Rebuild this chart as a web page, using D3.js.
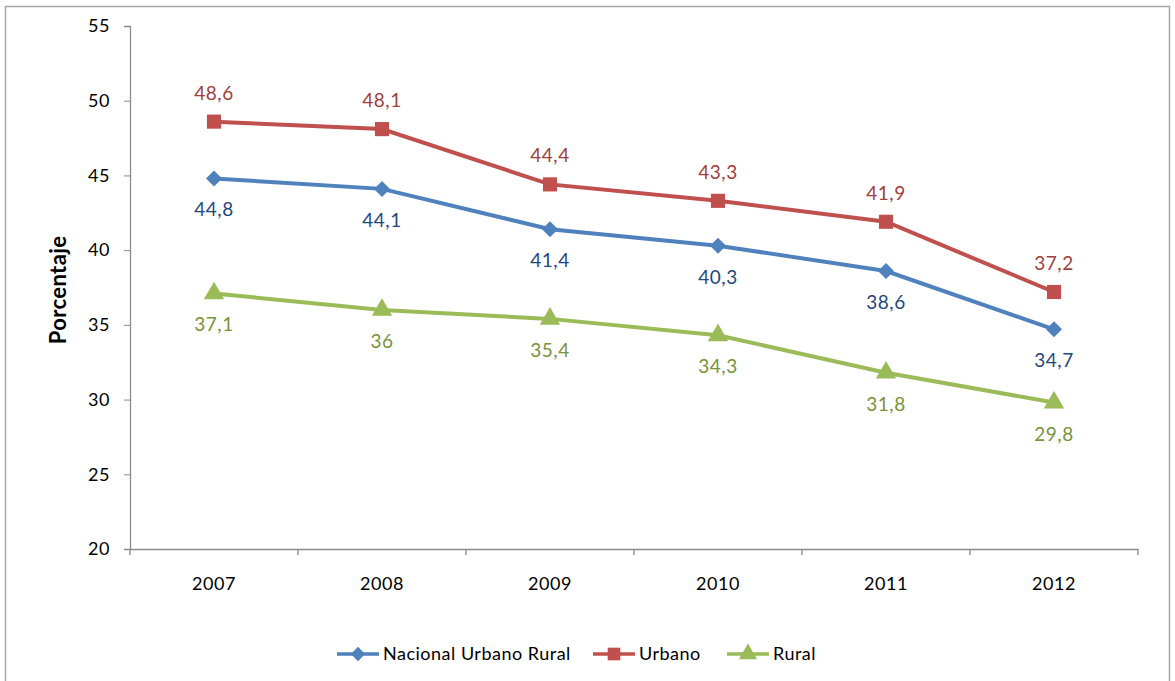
<!DOCTYPE html>
<html><head><meta charset="utf-8">
<script src="https://cdn.jsdelivr.net/npm/d3@7"></script>
<style>body{margin:0;background:#fff}svg{display:block}text{font-family:Lato,"Open Sans",sans-serif}</style>
</head><body><svg id="c" width="1175" height="681"></svg>
<script>
const years = ["2007","2008","2009","2010","2011","2012"];
const nacional = [44.8, 44.1, 41.4, 40.3, 38.6, 34.7];
const urbano = [48.6, 48.1, 44.4, 43.3, 41.9, 37.2];
const rural = [37.1, 36, 35.4, 34.3, 31.8, 29.8];
const yTicks = [20,25,30,35,40,45,50,55];
const seriesNames = ["Nacional Urbano Rural","Urbano","Rural"];

const svg = d3.select("#c");
svg.append("rect").attr("x",5.5).attr("y",6.5).attr("width",1164).attr("height",690).attr("fill","none").attr("stroke","#a6a6a6").attr("stroke-width",1.5);

const x = d3.scaleBand().domain(years).range([130,1138]);
const y = d3.scaleLinear().domain([20,55]).range([549,26]);

const axisColor = "#8c8c8c";
const yAx = svg.append("g").attr("transform","translate(130,0)").call(d3.axisLeft(y).tickValues(yTicks).tickSize(6).tickPadding(14).tickFormat(d3.format("d")));
const xAx = svg.append("g").attr("transform","translate(0,549)").call(d3.axisBottom(x).tickSize(0).tickPadding(28));
[yAx,xAx].forEach(g=>{g.selectAll("path").attr("stroke",axisColor).attr("stroke-width",1.3);g.selectAll("line").attr("stroke",axisColor);g.selectAll("text").attr("font-size",18).attr("letter-spacing","0.6px").attr("fill","#000").attr("font-family","Lato, sans-serif");});
const bounds = years.map(d=>x(d)).concat([x.range()[1]]);
xAx.selectAll(".bt").data(bounds).enter().append("line").attr("x1",d=>d).attr("x2",d=>d).attr("y1",0).attr("y2",6).attr("stroke",axisColor).attr("stroke-width",1.3);

svg.append("text").attr("transform","translate(66,290) rotate(-90)").attr("text-anchor","middle").attr("font-size",22).attr("letter-spacing","0.4px").attr("font-weight","bold").text("Porcentaje");

const cx = d=>x(d)+x.bandwidth()/2;
const line = d3.line().x((d,i)=>cx(years[i])).y(d=>y(d));
const fmt = v=>String(v).replace(".",",");

const series = [
  {name:seriesNames[0], data:nacional, color:"#4F81BD", lab:"#1F497D", sym:d3.symbolSquare, size:128, rot:45, dy:38},
  {name:seriesNames[1], data:urbano, color:"#C0504D", lab:"#A0403D", sym:d3.symbolSquare, size:200, rot:0, dy:-22},
  {name:seriesNames[2], data:rural, color:"#9BBB59", lab:"#77933C", sym:d3.symbolTriangle, size:180, rot:0, dy:38}
];
series.forEach(s=>{
  const g = svg.append("g");
  g.append("path").datum(s.data).attr("d",line).attr("fill","none").attr("stroke",s.color).attr("stroke-width",4);
  g.selectAll("path.m").data(s.data).enter().append("path").attr("class","m")
    .attr("transform",(d,i)=>`translate(${cx(years[i])},${y(d)}) rotate(${s.rot})`).attr("d",d3.symbol().type(s.sym).size(s.size)).attr("fill",s.color);
  g.selectAll("text").data(s.data).enter().append("text")
    .attr("x",(d,i)=>cx(years[i])).attr("y",d=>y(d)+s.dy).attr("text-anchor","middle").attr("font-size",19).attr("letter-spacing","0.5px").attr("fill",s.lab).text(fmt);
});

const leg = [{s:series[0],x:337},{s:series[1],x:593},{s:series[2],x:727}];
leg.forEach(l=>{
  const g = svg.append("g").attr("transform",`translate(${l.x},654)`);
  g.append("line").attr("x1",0).attr("x2",42).attr("stroke",l.s.color).attr("stroke-width",3.5);
  g.append("path").attr("transform",`translate(21,0) rotate(${l.s.rot})`).attr("d",d3.symbol().type(l.s.sym).size(l.s.size*0.8)).attr("fill",l.s.color);
  g.append("text").attr("x",46).attr("y",6).attr("font-size",18).attr("letter-spacing","0.5px").attr("fill","#000").text(l.s.name);
});
</script></body></html>
